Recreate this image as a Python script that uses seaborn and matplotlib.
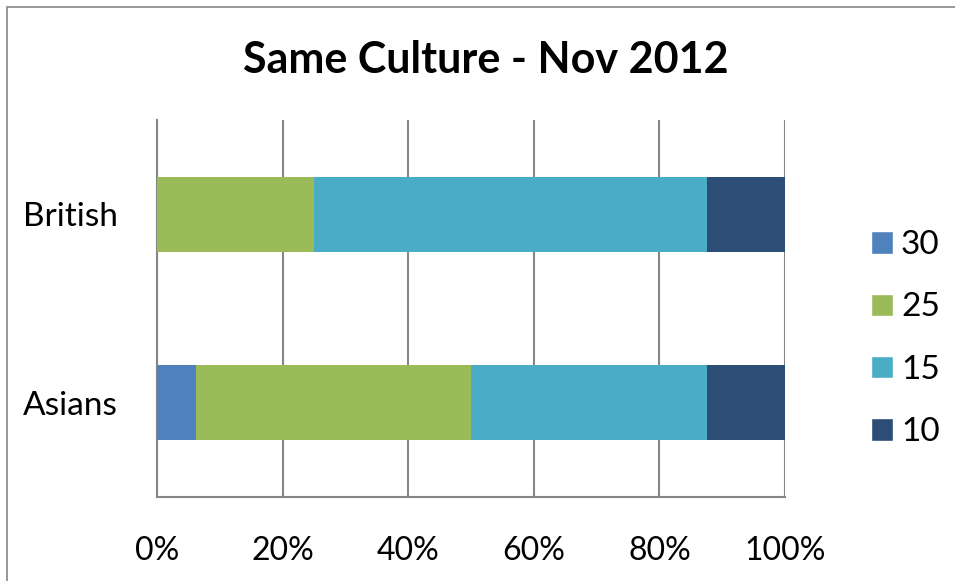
import numpy as np
import pandas as pd
import seaborn as sns
import matplotlib.pyplot as plt
from matplotlib.patches import Patch, Rectangle

# datos (porcentaje por grupo)
groups = ['British', 'Asians']
ratings = ['30', '25', '15', '10']
british = [0.0, 25.0, 62.5, 12.5]
asians = [6.25, 43.75, 37.5, 12.5]
colors = ['#4F81BD', '#9BBB59', '#4BACC6', '#2C4D75']
ticks = [0, 20, 40, 60, 80, 100]
tick_labels = ['0%', '20%', '40%', '60%', '80%', '100%']

sns.set_style('white')
plt.rcParams['font.family'] = ['Lato', 'DejaVu Sans']
plt.rcParams['text.color'] = 'black'
plt.rcParams['xtick.color'] = 'black'
plt.rcParams['ytick.color'] = 'black'

fig = plt.figure(figsize=(9.55, 5.81), dpi=100)
ax = fig.add_axes([157 / 955, 1 - 497 / 581, 628 / 955, 377 / 581])

# barras apiladas: se dibujan los acumulados de mayor a menor
vals = np.array([british, asians])
cum = np.cumsum(vals, axis=1)
for i in range(len(ratings) - 1, -1, -1):
    df = pd.DataFrame({'grupo': groups, 'valor': cum[:, i]})
    sns.barplot(data=df, x='valor', y='grupo', order=groups, color=colors[i],
                width=0.4, linewidth=0, saturation=1, ax=ax, zorder=3)

ax.set_xlim(0, 100)
ax.set_ylim(1.5, -0.5)
ax.set_xticks(ticks)
ax.set_xticklabels(tick_labels, fontsize=23)
ax.tick_params(axis='y', labelsize=24, length=0, pad=28, labelcolor='black')
ax.tick_params(axis='x', length=0, pad=28, labelcolor='black')
ax.set_xlabel('')
ax.set_ylabel('')
ax.grid(axis='x', color='#868686', linewidth=1.5, zorder=0)
ax.grid(axis='y', visible=False)
for s in ['top', 'right']:
    ax.spines[s].set_visible(False)
for s in ['left', 'bottom']:
    ax.spines[s].set_color('#868686')
    ax.spines[s].set_linewidth(1.5)

fig.text(486 / 955, 1 - 60 / 581, 'Same Culture - Nov 2012', fontsize=31,
         fontweight='bold', ha='center', va='center', color='black')

handles = [Patch(facecolor=c, label=r) for c, r in zip(colors, ratings)]
leg = ax.legend(handles=handles, frameon=False, fontsize=24, loc='center left',
                bbox_to_anchor=(1.089, 0.42), handlelength=0.65, handleheight=0.65,
                labelspacing=0.97, handletextpad=0.25)
for t in leg.get_texts():
    t.set_color('black')

# marco exterior
fig.patches.append(Rectangle((7 / 955, -0.1), 1.2, 1 - 7 / 581 + 0.1, transform=fig.transFigure,
                             fill=False, edgecolor='#868686', linewidth=1.2))

fig.savefig('out.png', dpi=100)
